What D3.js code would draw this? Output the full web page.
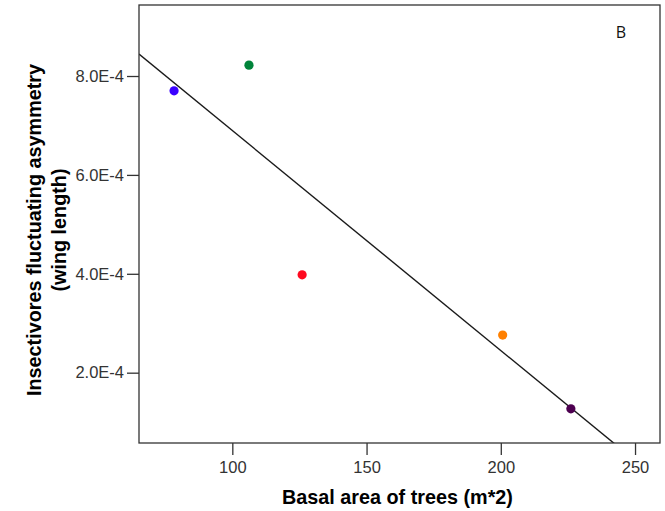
<!DOCTYPE html>
<html>
<head>
<meta charset="utf-8">
<script src="https://cdn.jsdelivr.net/npm/d3@7/dist/d3.min.js"></script>
<style>
  html, body { margin: 0; padding: 0; background: #fff; }
  svg { display: block; }
</style>
</head>
<body>
<svg id="chart" width="665" height="511"></svg>
<script>
// Data
const basalArea = [78.3, 106.2, 126.0, 200.7, 226.1];
const asymmetry = [7.70e-4, 8.22e-4, 3.98e-4, 2.76e-4, 1.27e-4];
const pointColors = ["#3a00ff", "#00843a", "#ff0a20", "#ff8000", "#4d0050"];
const xTicks = [100, 150, 200, 250];
const yTicks = [2e-4, 4e-4, 6e-4, 8e-4];
const yTickLabels = ["2.0E-4", "4.0E-4", "6.0E-4", "8.0E-4"];
const panelLabel = "B";
const xTitle = "Basal area of trees (m*2)";
const yTitleLines = ["Insectivores fluctuating asymmetry", "(wing length)"];

const svg = d3.select("#chart");
const mLeft = 139, mRight = 660, mTop = 5, mBottom = 443;

const x = d3.scaleLinear().domain([65.24, 259.3]).range([mLeft, mRight]);
const y = d3.scaleLinear().domain([0.578e-4, 9.436e-4]).range([mBottom, mTop]);

const font = "'Liberation Sans', Arial, sans-serif";

// regression line (least squares)
const n = basalArea.length;
const mx = d3.mean(basalArea), my = d3.mean(asymmetry);
let sxy = 0, sxx = 0;
for (let i = 0; i < n; i++) {
  sxy += (basalArea[i] - mx) * (asymmetry[i] - my);
  sxx += (basalArea[i] - mx) ** 2;
}
const slope = sxy / sxx, intercept = my - slope * mx;

svg.append("clipPath").attr("id", "clip")
  .append("rect").attr("x", mLeft).attr("y", mTop)
  .attr("width", mRight - mLeft).attr("height", mBottom - mTop);

const xd = x.domain();
svg.append("line")
  .attr("clip-path", "url(#clip)")
  .attr("x1", x(xd[0])).attr("y1", y(intercept + slope * xd[0]))
  .attr("x2", x(xd[1])).attr("y2", y(intercept + slope * xd[1]))
  .attr("stroke", "#1a1a1a").attr("stroke-width", 1.4);

// points
svg.selectAll("circle.pt").data(basalArea).enter().append("circle")
  .attr("class", "pt")
  .attr("cx", (d) => x(d))
  .attr("cy", (d, i) => y(asymmetry[i]))
  .attr("r", 4.6)
  .attr("fill", (d, i) => pointColors[i]);

// frame
svg.append("rect")
  .attr("x", mLeft).attr("y", mTop)
  .attr("width", mRight - mLeft).attr("height", mBottom - mTop)
  .attr("fill", "none").attr("stroke", "#333").attr("stroke-width", 1.3);

// axes
const xAxis = d3.axisBottom(x).tickValues(xTicks).tickSize(12).tickPadding(6).tickSizeOuter(0);
const gx = svg.append("g").attr("transform", `translate(0,${mBottom})`).call(xAxis);
gx.select(".domain").remove();
gx.selectAll("line").attr("stroke", "#333").attr("stroke-width", 1.3);
gx.selectAll("text").attr("font-family", font).attr("font-size", 16.5).attr("fill", "#333");

const yAxis = d3.axisLeft(y).tickValues(yTicks).tickFormat((d, i) => yTickLabels[i]).tickSize(12).tickPadding(3).tickSizeOuter(0);
const gy = svg.append("g").attr("transform", `translate(${mLeft},0)`).call(yAxis);
gy.select(".domain").remove();
gy.selectAll("line").attr("stroke", "#333").attr("stroke-width", 1.3);
gy.selectAll("text").attr("font-family", font).attr("font-size", 16.5).attr("fill", "#333");

// titles
svg.append("text")
  .attr("x", (mLeft + mRight) / 2 - 2).attr("y", 504)
  .attr("text-anchor", "middle")
  .attr("font-family", font).attr("font-weight", "bold").attr("font-size", 19.8)
  .attr("fill", "#000").text(xTitle);

const yt = svg.append("text")
  .attr("transform", `translate(0,230) rotate(-90)`)
  .attr("text-anchor", "middle")
  .attr("font-family", font).attr("font-weight", "bold").attr("font-size", 19.8)
  .attr("fill", "#000");
yt.append("tspan").attr("x", 0).attr("y", 41).text(yTitleLines[0]);
yt.append("tspan").attr("x", 0).attr("y", 66).text(yTitleLines[1]);

svg.append("text")
  .attr("x", 621).attr("y", 38)
  .attr("text-anchor", "middle")
  .attr("font-family", "'Open Sans', 'Noto Sans', sans-serif").attr("font-size", 16)
  .attr("fill", "#111").text(panelLabel);
</script>
</body>
</html>
